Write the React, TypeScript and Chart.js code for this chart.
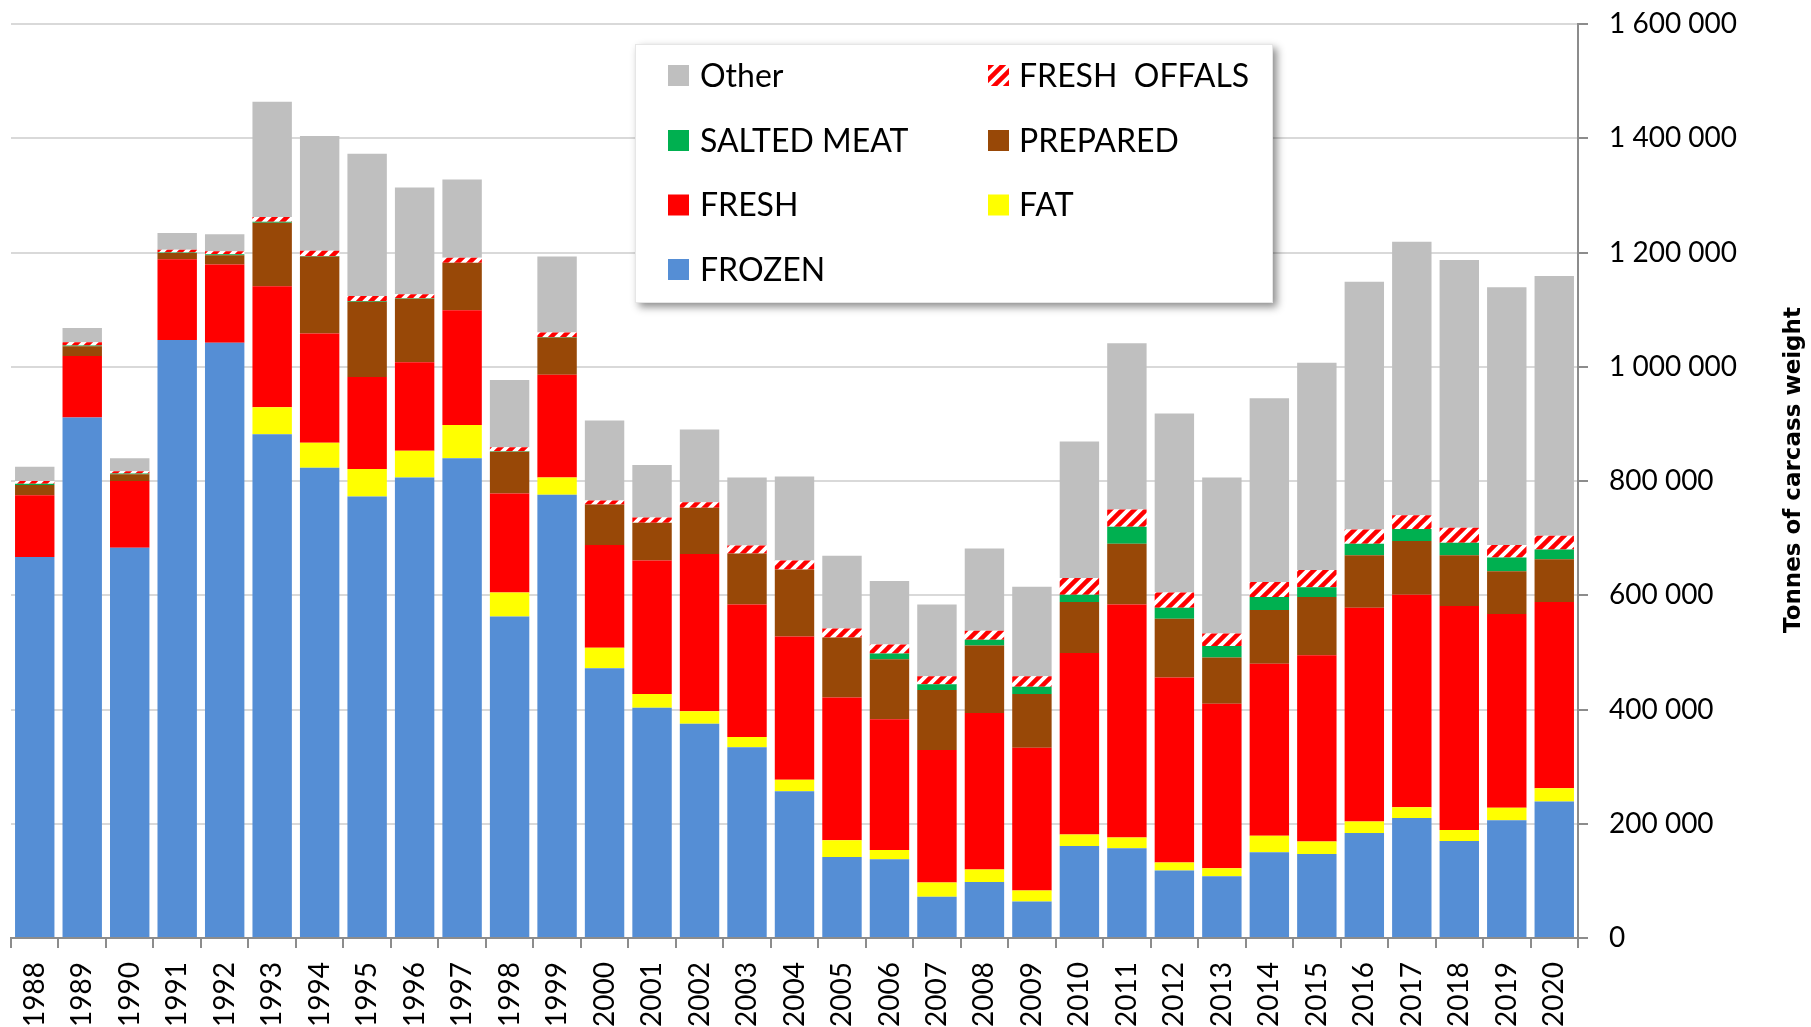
import React, { useEffect, useRef } from 'react';
import { Chart, registerables } from 'chart.js';

Chart.register(...registerables);

const YEARS = [
  '1988', '1989', '1990', '1991', '1992', '1993', '1994', '1995', '1996', '1997', '1998',
  '1999', '2000', '2001', '2002', '2003', '2004', '2005', '2006', '2007', '2008', '2009',
  '2010', '2011', '2012', '2013', '2014', '2015', '2016', '2017', '2018', '2019', '2020',
];

// thousands of tonnes of carcass weight
const FROZEN = [667, 911, 683, 1047, 1042, 882, 823, 773, 806, 840, 563, 776, 472, 403, 375, 334, 257, 142, 138, 72, 98, 64, 161, 157, 118, 108, 150, 147, 184, 210, 170, 206, 239];
const FAT = [0, 0, 0, 0, 0, 47, 44, 48, 47, 58, 42, 30, 36, 24, 22, 18, 20, 29, 16, 25, 22, 19, 20, 19, 14, 14, 29, 22, 20, 19, 19, 22, 23];
const FRESH = [108, 108, 117, 141, 137, 212, 191, 161, 155, 201, 173, 180, 180, 234, 275, 232, 251, 250, 229, 232, 274, 250, 318, 408, 324, 288, 301, 326, 374, 372, 392, 339, 326];
const PREPARED = [18, 17, 12, 11, 16, 111, 135, 132, 111, 83, 73, 65, 71, 66, 81, 89, 117, 105, 105, 105, 118, 94, 89, 106, 103, 81, 94, 102, 92, 94, 89, 75, 75];
const SALTED = [2, 1, 1, 1, 2, 2, 1, 1, 1, 0, 1, 1, 0, 0, 0, 0, 0, 0, 10, 10, 10, 13, 13, 30, 19, 20, 23, 17, 20, 21, 22, 24, 17];
const OFFALS = [5, 6, 4, 5, 5, 8, 9, 9, 7, 9, 7, 8, 7, 9, 10, 14, 16, 16, 16, 14, 16, 18, 29, 30, 27, 22, 26, 30, 25, 24, 26, 22, 24];
const OTHER = [25, 25, 23, 29, 30, 202, 201, 249, 187, 137, 118, 133, 140, 92, 127, 119, 147, 127, 111, 126, 144, 157, 239, 291, 313, 273, 322, 363, 434, 479, 469, 451, 455];

const SERIES_LABELS = ['FROZEN', 'FAT', 'FRESH', 'PREPARED', 'SALTED MEAT', 'FRESH  OFFALS', 'Other'];
const SERIES_COLORS = ['#558ed5', '#ffff00', '#ff0000', '#984807', '#00b050', 'HATCH', '#bfbfbf'];

const Y_TICKS_MAX = 1600000;
const Y_STEP = 200000;
const Y_TITLE = 'Tonnes of carcass weight';

const fmt = (v: number) => String(Math.round(v)).replace(/\B(?=(\d{3})+(?!\d))/g, ' ');

function makeHatch(): CanvasPattern | string {
  const c = document.createElement('canvas');
  c.width = 12;
  c.height = 12;
  const g = c.getContext('2d');
  if (!g) return '#ff0000';
  g.fillStyle = '#ffffff';
  g.fillRect(0, 0, 12, 12);
  g.strokeStyle = '#ff0000';
  g.lineWidth = 4.5;
  g.beginPath();
  g.moveTo(-3, 15); g.lineTo(15, -3);
  g.moveTo(-3, 3); g.lineTo(3, -3);
  g.moveTo(9, 15); g.lineTo(15, 9);
  g.stroke();
  const p = g.createPattern(c, 'repeat');
  return p || '#ff0000';
}

const overlayPlugin = {
  id: 'overlay',
  afterDraw(chart: any) {
    const ctx: CanvasRenderingContext2D = chart.ctx;
    ctx.save();
    // legend box
    const bx = 635, by = 44, bw = 638, bh = 259;
    ctx.shadowColor = 'rgba(0,0,0,0.45)';
    ctx.shadowBlur = 8;
    ctx.shadowOffsetX = 4;
    ctx.shadowOffsetY = 4;
    ctx.fillStyle = '#ffffff';
    ctx.fillRect(bx, by, bw, bh);
    ctx.shadowColor = 'rgba(0,0,0,0)';
    ctx.shadowBlur = 0;
    ctx.shadowOffsetX = 0;
    ctx.shadowOffsetY = 0;
    ctx.strokeStyle = '#e6e6e6';
    ctx.lineWidth = 1;
    ctx.strokeRect(bx + 0.5, by + 0.5, bw - 1, bh - 1);

    const items = chart.data.datasets
      .map((d: any) => ({ label: d.label, color: d.backgroundColor }))
      .reverse();
    const rowY = [75, 140, 204.5, 269];
    const swX = [668, 988];
    const txX = [700, 1019];
    ctx.font = '32px Lato';
    ctx.textAlign = 'left';
    ctx.textBaseline = 'alphabetic';
    items.forEach((it: any, k: number) => {
      const col = k % 2;
      const row = Math.floor(k / 2);
      const cy = rowY[row];
      ctx.fillStyle = it.color;
      ctx.fillRect(swX[col], cy - 10, 21, 21);
      ctx.fillStyle = '#000000';
      ctx.fillText(it.label, txX[col], cy + 11.5);
    });

    // y axis title (reads bottom to top)
    ctx.translate(1794, 470);
    ctx.rotate(-Math.PI / 2);
    ctx.font = 'bold 23px "DejaVu Sans"';
    ctx.textAlign = 'center';
    ctx.textBaseline = 'middle';
    ctx.fillStyle = '#000000';
    ctx.fillText(Y_TITLE, 0, 0);
    ctx.restore();
  },
};

export default function App() {
  const ref = useRef<HTMLCanvasElement | null>(null);

  useEffect(() => {
    if (!ref.current) return;
    const hatch = makeHatch();
    const values = [FROZEN, FAT, FRESH, PREPARED, SALTED, OFFALS, OTHER];
    const datasets = values.map((arr, i) => ({
      label: SERIES_LABELS[i],
      data: arr.map((v) => v * 1000),
      backgroundColor: SERIES_COLORS[i] === 'HATCH' ? hatch : SERIES_COLORS[i],
      borderWidth: 0,
      barPercentage: 0.83,
      categoryPercentage: 1.0,
    }));

    const chart = new Chart(ref.current, {
      type: 'bar',
      data: { labels: YEARS, datasets: datasets as any },
      options: {
        animation: false,
        responsive: false,
        devicePixelRatio: 1,
        layout: { padding: { left: 11, top: 24, right: 0, bottom: 0 } },
        plugins: {
          legend: { display: false },
          tooltip: { enabled: false },
        },
        scales: {
          x: {
            stacked: true,
            offset: true,
            grid: {
              display: true,
              drawOnChartArea: false,
              drawTicks: true,
              tickLength: 10,
              color: '#8c8c8c',
              lineWidth: 2,
              offset: true,
            },
            border: { display: true, color: '#8c8c8c', width: 2 },
            ticks: {
              autoSkip: false,
              minRotation: 90,
              maxRotation: 90,
              padding: 14,
              color: '#000000',
              font: { family: 'Lato', size: 28 },
            },
            afterFit: (s: any) => {
              s.height = 89;
              s.paddingLeft = 0;
              s.paddingRight = 0;
            },
          },
          y: {
            stacked: true,
            position: 'right',
            min: 0,
            max: Y_TICKS_MAX,
            grid: {
              color: '#d9d9d9',
              lineWidth: 2,
              drawTicks: true,
              tickLength: 10,
              tickColor: '#8c8c8c',
              tickWidth: 2,
            },
            border: { display: true, color: '#8c8c8c', width: 2 },
            ticks: {
              stepSize: Y_STEP,
              padding: 21,
              color: '#000000',
              font: { family: 'Lato', size: 28 },
              callback: (v: any) => fmt(Number(v)),
            },
            afterFit: (s: any) => {
              s.width = 233;
              s.paddingTop = 0;
              s.paddingBottom = 0;
            },
          },
        },
      } as any,
      plugins: [overlayPlugin],
    });
    return () => chart.destroy();
  }, []);

  return (
    <div style={{ position: 'absolute', left: 0, top: 0, width: 1811, height: 1027, background: '#ffffff', overflow: 'hidden' }}>
      <canvas ref={ref} width={1811} height={1027} style={{ width: 1811, height: 1027, display: 'block' }} />
    </div>
  );
}
